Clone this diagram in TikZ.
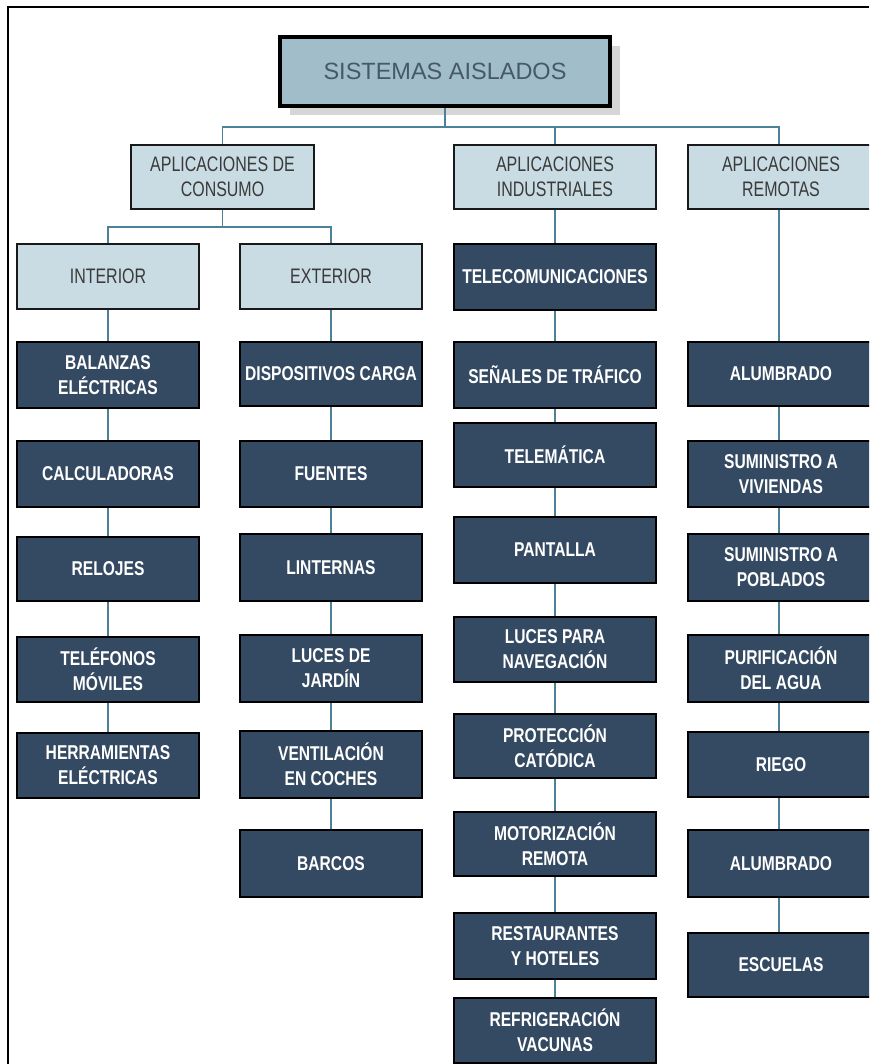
\documentclass[tikz,border=0pt]{standalone}
\usepackage{fontspec}
\usetikzlibrary{shadows}
\setmainfont{Liberation Sans}
\newfontfamily\condsans[FakeStretch=0.76]{Liberation Sans}
\newfontfamily\condbold[FakeStretch=0.78]{Liberation Sans Bold}

\definecolor{topfill}{HTML}{A0BDC9}
\definecolor{topink}{HTML}{46596B}
\definecolor{catfill}{HTML}{C9DCE3}
\definecolor{catink}{HTML}{3A3A3A}
\definecolor{itemfill}{HTML}{344A62}
\definecolor{wire}{HTML}{4D8099}
\definecolor{shade}{HTML}{D6D6D6}

\tikzset{
  topbox/.style={draw=black, line width=3.5pt, fill=topfill, text=topink,
    inner sep=0pt, minimum width=330pt, minimum height=69pt,
    font=\fontsize{23.5}{28}\selectfont,
    drop shadow={shadow xshift=10pt, shadow yshift=-9pt, fill=shade, opacity=1}},
  catbox/.style={draw=black!90, line width=1.6pt, fill=catfill, text=catink,
    inner sep=0pt, minimum height=64pt, align=center,
    font=\condsans\fontsize{21}{25}\selectfont},
  itembox/.style={draw=black, line width=1.8pt, fill=itemfill, text=white,
    inner sep=0pt, align=center,
    font=\condbold\fontsize{20}{25}\selectfont},
  wireline/.style={draw=wire, line width=1.6pt},
  colI/.style={itembox, minimum width=182pt},
  colE/.style={itembox, minimum width=182pt},
  colN/.style={itembox, minimum width=202pt},
  colR/.style={itembox, minimum width=186pt},
}

\begin{document}
\begin{tikzpicture}[x=1pt, y=-1pt]
\useasboundingbox (0,0) rectangle (869,1064);
\clip (0,0) rectangle (869,1064);
\fill[white] (0,0) rectangle (869,1064);

% outer frame (open to the right and bottom)
\draw[line width=1.6pt] (8,1064) -- (8,7) -- (869,7);

% root
\node[topbox] (top) at (445,71.5) {SISTEMAS AISLADOS};

% second level
\node[catbox, minimum width=183pt] (cons) at (222.5,177) {APLICACIONES DE\\CONSUMO};
\node[catbox, minimum width=202pt] (ind) at (555,177) {APLICACIONES\\INDUSTRIALES};
\node[catbox, minimum width=186pt] (rem) at (781,177) {APLICACIONES\\REMOTAS};

% third level (consumer)
\node[catbox, minimum width=182pt, minimum height=65pt] (int) at (108,276.5) {INTERIOR};
\node[catbox, minimum width=182pt, minimum height=65pt] (ext) at (331,276.5) {EXTERIOR};

% interior column
\node[colI, minimum height=66pt] (i1) at (108,375)   {BALANZAS\\ELÉCTRICAS};
\node[colI, minimum height=66pt] (i2) at (108,474)   {CALCULADORAS};
\node[colI, minimum height=64pt] (i3) at (108,569)   {RELOJES};
\node[colI, minimum height=65pt] (i4) at (108,669.5) {TELÉFONOS\\MÓVILES};
\node[colI, minimum height=65pt] (i5) at (108,765.5) {HERRAMIENTAS\\ELÉCTRICAS};

% exterior column
\node[colE, minimum height=64pt] (e1) at (331,374)   {DISPOSITIVOS CARGA};
\node[colE, minimum height=66pt] (e2) at (331,474)   {FUENTES};
\node[colE, minimum height=67pt] (e3) at (331,567.5) {LINTERNAS};
\node[colE, minimum height=67pt] (e4) at (331,668.5) {LUCES DE\\JARDÍN};
\node[colE, minimum height=67pt] (e5) at (331,764.5) {VENTILACIÓN\\EN COCHES};
\node[colE, minimum height=67pt] (e6) at (331,863.5) {BARCOS};

% industrial column
\node[colN, minimum height=66pt] (n1) at (555,277)    {TELECOMUNICACIONES};
\node[colN, minimum height=66pt] (n2) at (555,375)    {SEÑALES DE TRÁFICO};
\node[colN, minimum height=64pt] (n3) at (555,455)    {TELEMÁTICA};
\node[colN, minimum height=66pt] (n4) at (555,550)    {PANTALLA};
\node[colN, minimum height=65pt] (n5) at (555,649.5)  {LUCES PARA\\NAVEGACIÓN};
\node[colN, minimum height=64pt] (n6) at (555,746)    {PROTECCIÓN\\CATÓDICA};
\node[colN, minimum height=64pt] (n7) at (555,844)    {MOTORIZACIÓN\\REMOTA};
\node[colN, minimum height=66pt] (n8) at (555,946)    {RESTAURANTES\\Y HOTELES};
\node[colN, minimum height=65pt] (n9) at (555,1030.5) {REFRIGERACIÓN\\VACUNAS};

% remote column (runs off the right edge)
\node[colR, minimum height=64pt] (r1) at (781,374)   {ALUMBRADO};
\node[colR, minimum height=66pt] (r2) at (781,474)   {SUMINISTRO A\\VIVIENDAS};
\node[colR, minimum height=67pt] (r3) at (781,567.5) {SUMINISTRO A\\POBLADOS};
\node[colR, minimum height=67pt] (r4) at (781,668.5) {PURIFICACIÓN\\DEL AGUA};
\node[colR, minimum height=65pt] (r5) at (781,764.5) {RIEGO};
\node[colR, minimum height=67pt] (r6) at (781,863.5) {ALUMBRADO};
\node[colR, minimum height=64pt] (r7) at (781,965)   {ESCUELAS};

% main bus
\coordinate (bus) at (445,127);
\coordinate (rtap) at (779,127);
\draw[wireline] (top.south) -- (bus);
\draw[wireline] (cons.north) -- (cons.north |- bus) -- (rtap) -- (rtap |- rem.north);
\draw[wireline] (ind.north) -- (ind.north |- bus);

% consumer bus
\coordinate (cbus) at (222.5,227);
\draw[wireline] (cons.south) -- (cbus);
\draw[wireline] (int.north) -- (int.north |- cbus) -- (ext.north |- cbus) -- (ext.north);

% vertical chains
\foreach \a/\b in {int/i1, i1/i2, i2/i3, i3/i4, i4/i5,
                   ext/e1, e1/e2, e2/e3, e3/e4, e4/e5, e5/e6,
                   ind/n1, n1/n2, n2/n3, n3/n4, n4/n5, n5/n6, n6/n7, n7/n8, n8/n9}
  \draw[wireline] (\a.south) -- (\b.north);
\foreach \a/\b in {rem/r1, r1/r2, r2/r3, r3/r4, r4/r5, r5/r6, r6/r7}
  \draw[wireline] (rtap |- \a.south) -- (rtap |- \b.north);
\end{tikzpicture}
\end{document}
